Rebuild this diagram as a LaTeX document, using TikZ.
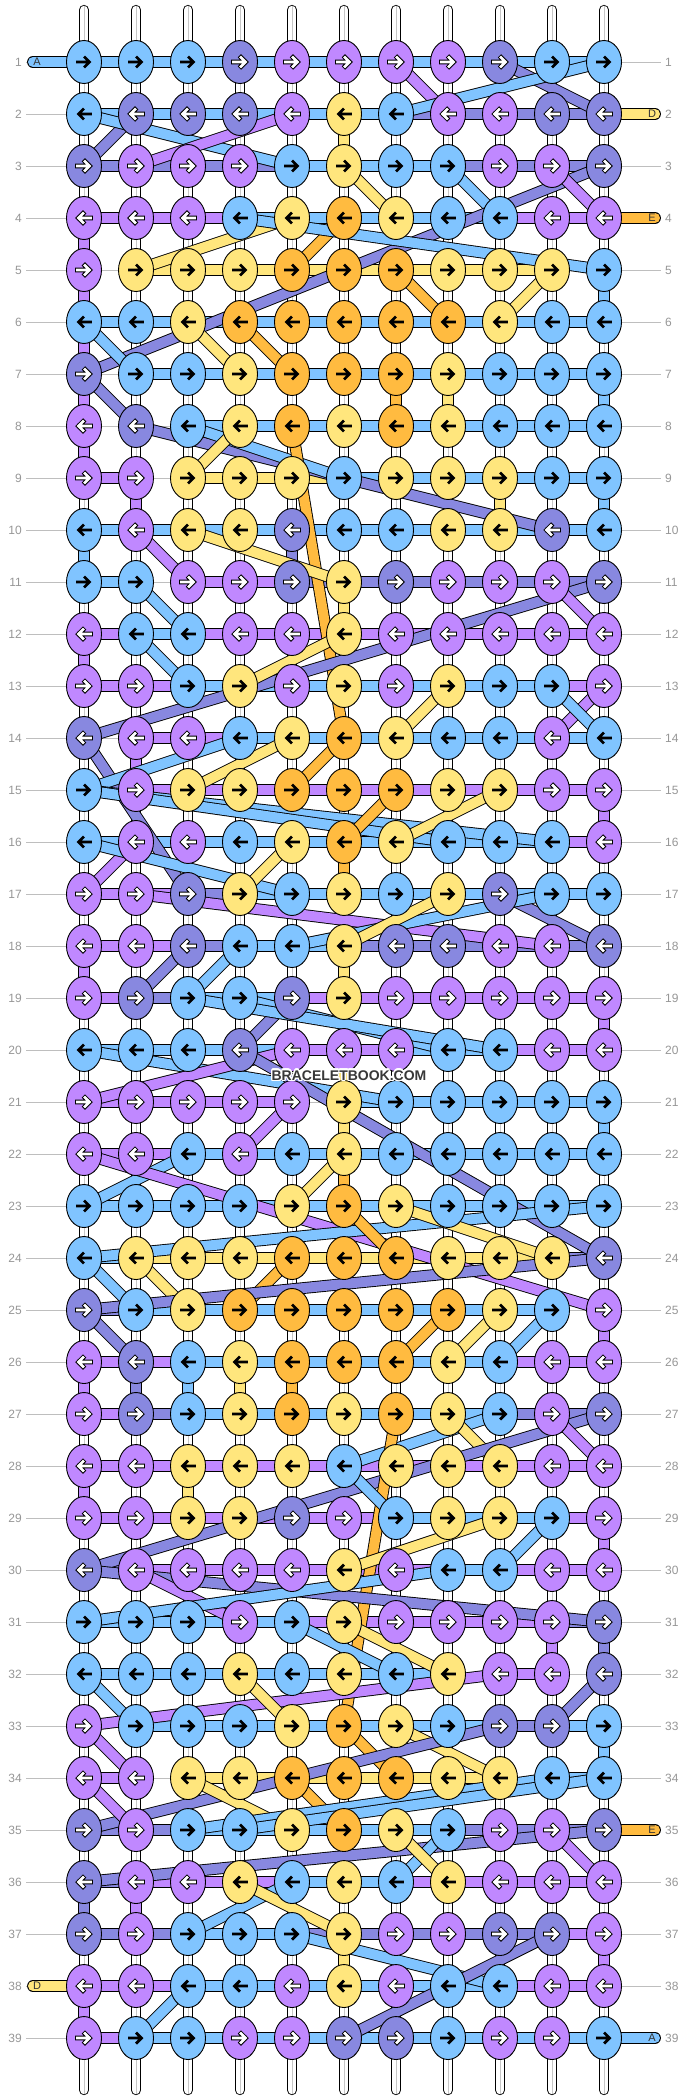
\documentclass[tikz,border=0pt]{standalone}
\usepackage{fontspec}
\setmainfont{Liberation Sans}
\usepackage[copies]{contour}
\contourlength{1.3pt}
\usetikzlibrary{shapes.geometric}
\pgfdeclarelayer{guides}
\pgfdeclarelayer{strings}
\pgfsetlayers{guides,strings,main}

\definecolor{kB}{RGB}{128,196,255}
\definecolor{kP}{RGB}{136,136,224}
\definecolor{kV}{RGB}{192,136,255}
\definecolor{kY}{RGB}{255,230,125}
\definecolor{kO}{RGB}{255,187,64}
\definecolor{rulegray}{RGB}{190,190,190}
\definecolor{labelgray}{RGB}{150,150,150}

\tikzset{
  knot/.style={ellipse, draw=black, line width=0.9pt, minimum width=35pt, minimum height=43pt, inner sep=0pt},
  band/.style={draw=black, line width=0.9pt, double=#1, double distance=10pt},
  bandB/.style={band=kB}, bandP/.style={band=kP}, bandV/.style={band=kV},
  bandY/.style={band=kY}, bandO/.style={band=kO}, bandN/.style={draw=none},
  outerB/.style={line width=2.8pt}, outerY/.style={line width=2.8pt}, outerO/.style={line width=2.8pt},
  outerP/.style={line width=4.6pt}, outerV/.style={line width=4.6pt},
  innerB/.style={draw=none}, innerY/.style={draw=none}, innerO/.style={draw=none},
  innerP/.style={draw=white, line width=2.6pt}, innerV/.style={draw=white, line width=2.6pt},
  glyph/.pic={\draw[pic actions, line cap=rect, line join=miter] (-6.5,0) -- (4.5,0) (1,-4.5) -- (5.5,0) -- (1,4.5);},
  rowlabel/.style={font=\fontsize{12}{12}\selectfont, text=labelgray, inner sep=0pt},
  endlabel/.style={font=\fontsize{11}{11}\selectfont, text=black!80, inner sep=0pt},
}

\begin{document}
\begin{tikzpicture}[x=1pt, y=-1pt]
\useasboundingbox (0,0) rectangle (688,2100);

% knots, odd rows right, even rows left
\foreach \cols [count=\r] in {
  {B,B,B,P,V,V,V,V,P,B,B},{B,P,P,P,V,Y,B,V,V,P,P},{P,V,V,V,B,Y,B,B,V,V,P},{V,V,V,B,Y,O,Y,B,B,V,V},
  {V,Y,Y,Y,O,O,O,Y,Y,Y,B},{B,B,Y,O,O,O,O,O,Y,B,B},{P,B,B,Y,O,O,O,Y,B,B,B},{V,P,B,Y,O,Y,O,Y,B,B,B},
  {V,V,Y,Y,Y,B,Y,Y,Y,B,B},{B,V,Y,Y,P,B,B,Y,Y,P,B},{B,B,V,V,P,Y,P,V,V,V,P},{V,B,B,V,V,Y,V,V,V,V,V},
  {V,V,B,Y,V,Y,V,Y,B,B,V},{P,V,V,B,Y,O,Y,B,B,V,B},{B,V,Y,Y,O,O,O,Y,Y,V,V},{B,V,V,B,Y,O,Y,B,B,B,V},
  {V,V,P,Y,B,Y,B,Y,P,B,B},{V,V,P,B,B,Y,P,P,V,V,P},{V,P,B,B,P,Y,V,V,V,V,V},{B,B,B,P,V,V,V,B,B,V,V},
  {V,V,V,V,V,Y,B,B,B,B,B},{V,V,B,V,B,Y,B,B,B,B,B},{B,B,B,B,Y,O,Y,B,B,B,B},{B,Y,Y,Y,O,O,O,Y,Y,Y,P},
  {P,B,Y,O,O,O,O,O,Y,B,V},{V,P,B,Y,O,O,O,Y,B,V,V},{V,P,B,Y,O,Y,O,Y,B,V,P},{V,V,Y,Y,Y,B,Y,Y,Y,V,V},
  {V,V,Y,Y,P,V,B,Y,Y,B,V},{P,V,V,V,V,Y,V,B,B,V,V},{B,B,B,V,B,Y,V,V,V,V,P},{B,B,B,Y,B,Y,B,Y,V,V,P},
  {V,B,B,B,Y,O,Y,B,P,P,B},{V,V,Y,Y,O,O,O,Y,Y,B,B},{P,V,B,B,Y,O,Y,B,V,V,P},{P,V,V,Y,B,Y,B,Y,V,V,V},
  {P,V,B,B,B,Y,V,V,P,P,V},{V,V,B,B,V,Y,V,B,B,V,V},{V,B,B,V,V,P,P,B,V,V,B}} {
  \ifodd\r \def\dir{1}\else \def\dir{-1}\fi
  \foreach \k [count=\c] in \cols {
    \node[knot, fill=k\k] (k-\r-\c) at ({84+52*(\c-1)}, {62+52*(\r-1)}) {};
    \pic[draw=black, outer\k, xscale=\dir] at (k-\r-\c) {glyph};
    \pic[inner\k, xscale=\dir] at (k-\r-\c) {glyph};
  }
  \node[rowlabel, anchor=east] (ll-\r) at (22, {62+52*(\r-1)}) {\r};
  \node[rowlabel, anchor=west] (rl-\r) at (665, {62+52*(\r-1)}) {\r};
}

\begin{pgfonlayer}{guides}
  \foreach \r in {1,...,39}
    \draw[rulegray] (26, {62+52*(\r-1)}) -- (661, {62+52*(\r-1)});
  \foreach \c in {1,...,11} {
    \draw[band=white, double distance=8.5pt, line cap=round] ({84+52*(\c-1)}, 10) -- ({84+52*(\c-1)}, 2090);
    \draw[gray!45, line width=0.6pt] ({84+52*(\c-1)}, 6) -- ({84+52*(\c-1)}, 2094);
  }
\end{pgfonlayer}

\begin{pgfonlayer}{strings}
  % straight drops between rows
  \foreach \r/\c/\k in {2/6/Y, 4/1/V, 5/1/V, 6/1/V, 7/1/V, 8/1/V, 5/11/B, 7/7/O, 7/8/Y, 7/11/B,
      9/2/V, 9/9/Y, 9/11/B, 10/1/B, 10/5/P, 11/6/Y, 12/1/V, 14/2/V, 15/11/V, 16/6/O,
      18/1/V, 18/6/Y, 19/6/Y, 19/11/V, 20/6/Y, 21/6/Y, 21/11/B, 22/6/O, 25/11/V,
      26/1/V, 26/2/P, 26/3/B, 26/4/Y, 26/5/O, 28/1/V, 28/3/Y, 29/11/V, 31/10/V, 31/11/P,
      33/11/B, 36/1/P, 36/2/V, 37/6/Y, 37/11/V, 38/1/V} {
    \pgfmathtruncatemacro\n{\r+1}
    \draw[band\k] (k-\r-\c.center) -- (k-\n-\c.center);
  }
  % row strings
  \foreach \segs [count=\r] in {
    {B,B,B,B,B,B,B,B,B,B},{B,B,B,B,B,B,P,P,P,P},{P,P,P,P,B,B,B,P,P,P},{V,V,V,B,B,B,B,B,V,V},
    {N,Y,Y,Y,Y,Y,Y,Y,Y,N},{B,B,B,B,B,B,B,B,B,B},{N,B,B,B,B,B,B,B,B,B},{N,N,B,B,B,B,B,B,B,B},
    {V,N,Y,Y,Y,B,B,B,B,B},{B,B,B,B,B,B,B,B,B,B},{B,N,V,V,P,P,P,P,P,P},{V,B,V,V,V,V,V,V,V,V},
    {V,V,B,B,B,B,B,B,B,V},{N,V,V,B,B,B,B,B,B,B},{N,V,V,V,V,V,V,V,V,V},{B,B,B,B,B,B,B,B,B,V},
    {V,V,P,B,B,B,B,B,B,B},{V,V,P,B,B,P,P,P,P,P},{V,P,B,B,V,V,V,V,V,V},{B,B,B,B,V,V,B,B,V,V},
    {V,V,V,V,N,B,B,B,B,B},{V,V,B,B,B,B,B,B,B,B},{B,B,B,B,B,B,B,B,B,B},{B,Y,Y,Y,Y,Y,Y,Y,Y,P},
    {P,B,B,B,B,B,B,B,B,N},{V,V,B,B,B,B,B,B,V,V},{V,P,B,B,B,B,B,B,P,P},{V,V,V,V,V,V,V,V,V,V},
    {V,V,V,V,V,V,B,B,B,V},{P,V,V,V,V,V,V,B,V,V},{B,B,B,B,V,V,V,V,V,P},{B,B,B,B,B,B,B,N,V,N},
    {N,B,B,B,B,B,B,B,P,B},{V,N,Y,Y,Y,Y,Y,Y,N,B},{P,P,B,B,B,B,B,P,P,P},{P,V,V,V,B,B,V,V,V,V},
    {P,P,B,B,P,P,P,P,P,V},{V,V,B,B,B,B,B,B,V,V},{V,B,B,B,B,B,B,B,B,B}} {
    \foreach \k [count=\c] in \segs {
      \pgfmathtruncatemacro\n{\c+1}
      \draw[band\k] (k-\r-\c.center) -- (k-\r-\n.center);
    }
  }
  % loose ends
  \coordinate (inA) at (33,62);
  \coordinate (inD) at (655,114);
  \coordinate (inE) at (655,218);
  \coordinate (outE) at (655,1830);
  \coordinate (outD) at (33,1986);
  \coordinate (outA) at (655,2038);
  \draw[bandB, line cap=round] (inA) -- (k-1-1.center);
  \draw[bandY, line cap=round] (inD) -- (k-2-11.center);
  \draw[bandO, line cap=round] (inE) -- (k-4-11.center);
  \draw[bandO, line cap=round] (outE) -- (k-35-11.center);
  \draw[bandY, line cap=round] (outD) -- (k-38-1.center);
  \draw[bandB, line cap=round] (outA) -- (k-39-11.center);
  % strings moving across
  \foreach \a/\b/\k in {1-7/2-8/V, 1-9/2-11/P, 1-11/2-7/B, 2-2/3-1/P, 2-1/3-5/B, 2-5/3-2/V,
      3-6/4-7/Y, 3-8/4-9/B, 3-11/7-1/P, 3-10/4-11/V, 4-5/5-2/Y, 4-6/5-5/O, 4-4/5-11/B,
      5-7/6-8/O, 5-10/6-9/Y, 6-1/7-2/B, 6-3/7-4/Y, 6-4/7-5/O, 7-1/8-2/P, 8-2/10-10/P,
      8-3/9-6/B, 8-4/9-3/Y, 8-5/14-6/O, 10-2/11-3/V, 10-3/11-6/Y, 11-2/12-3/B, 11-11/14-1/P,
      11-10/12-11/V, 12-2/13-3/B, 12-6/13-4/Y, 13-8/14-7/Y, 13-11/14-10/V, 13-10/14-11/B,
      14-1/17-3/P, 14-4/15-1/B, 14-5/15-3/Y, 14-6/15-5/O, 15-1/16-10/B, 15-1/16-8/B,
      15-7/16-6/O, 15-9/16-7/Y, 16-2/17-1/V, 16-1/17-5/B, 16-5/17-4/Y, 17-2/18-10/V,
      17-9/18-11/P, 17-10/18-5/B, 17-8/18-6/Y, 18-3/19-2/P, 18-4/19-3/B, 19-5/20-4/P,
      19-4/20-8/B, 19-3/20-9/B, 20-1/21-7/B, 20-5/21-1/V, 20-4/24-11/P, 21-5/22-4/V,
      22-3/23-1/B, 22-1/25-11/V, 22-6/23-5/Y, 23-11/24-1/B, 23-7/24-10/Y, 23-6/24-7/O,
      24-1/25-2/B, 24-2/25-3/Y, 24-5/25-4/O, 24-11/25-1/P, 25-1/26-2/P, 25-8/26-7/O,
      25-9/26-8/Y, 25-10/26-9/B, 27-9/28-6/B, 27-8/28-9/Y, 27-11/30-1/P, 27-10/28-11/V,
      27-7/33-6/O, 28-6/29-7/B, 29-9/30-6/Y, 29-10/30-9/B, 30-1/31-11/P, 30-2/31-4/V,
      30-8/31-1/B, 31-5/32-7/B, 31-6/32-8/Y, 32-1/33-2/B, 32-9/33-1/V, 32-4/33-5/Y,
      32-11/33-10/P, 33-1/34-2/V, 33-6/34-7/O, 33-7/34-9/Y, 33-9/35-1/P, 34-1/35-2/V,
      34-3/35-5/Y, 34-5/35-6/O, 34-10/35-3/B, 34-11/35-4/B, 35-11/36-1/P, 35-8/36-7/B,
      35-7/36-8/Y, 35-10/36-11/V, 36-5/37-3/B, 36-4/37-6/Y, 37-5/38-9/B, 37-10/39-6/P,
      38-3/39-2/B}
    \draw[band\k] (k-\a.center) -- (k-\b.center);
\end{pgfonlayer}

\node[endlabel] (lA1) at (37,62) {A};
\node[endlabel] (lD2) at (652,114) {D};
\node[endlabel] (lE4) at (652,218) {E};
\node[endlabel] (lE35) at (652,1830) {E};
\node[endlabel] (lD38) at (37,1986) {D};
\node[endlabel] (lA39) at (652,2038) {A};

\node[font=\bfseries\fontsize{14}{14}\selectfont, text=black!78, inner sep=0pt] (mark) at (349,1076) {\contour{white}{BRACELETBOOK.COM}};
\end{tikzpicture}
\end{document}
